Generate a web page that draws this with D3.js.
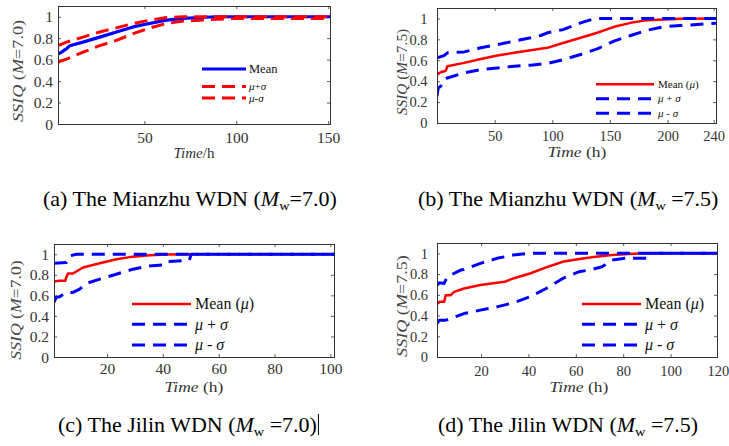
<!DOCTYPE html>
<html><head><meta charset="utf-8">
<script src="https://cdn.jsdelivr.net/npm/d3@7"></script>
<style>
body{margin:0;background:#fff}
svg{display:block}
text{font-family:"Liberation Serif","Times New Roman",serif}
</style>
</head><body>
<svg id="chart" width="729" height="446"></svg>
<script>
// ---------- data ----------
const yTicks = [0, 0.2, 0.4, 0.6, 0.8, 1];
const yTickLabels = ["0", "0.2", "0.4", "0.6", "0.8", "1"];
const xTicksA = [50, 100, 150];
const xTicksB = [50, 100, 150, 200, 240];
const xTicksC = [20, 40, 60, 80, 100];
const xTicksD = [20, 40, 60, 80, 100, 120];

// (a) Mianzhu, Mw 7.0  [time h, SSIQ]
const meanA = [[3,0.653],[5,0.67],[6.5,0.69],[7.6,0.70],[9.4,0.73],[16.6,0.763],[25.7,0.81],[34.8,0.858],[43.9,0.905],[50,0.927],[62.1,0.968],[71.2,0.984],[80.3,0.993],[89.4,1.0],[151,1.0]];
const upperA = [[3,0.731],[7.6,0.763],[16.6,0.81],[25.7,0.858],[34.8,0.896],[43.9,0.937],[53,0.968],[62.1,0.993],[71.2,1.0],[151,1.0]];
const lowerA = [[3,0.574],[5,0.59],[7.6,0.605],[16.6,0.669],[25.7,0.731],[34.8,0.779],[43.9,0.842],[53,0.896],[62.1,0.937],[71.2,0.959],[80.3,0.968],[98.5,0.984],[151,0.984]];

// (b) Mianzhu, Mw 7.5
const meanB = [[0,0.463],[3.2,0.486],[6.1,0.495],[7.5,0.50],[8.5,0.527],[9,0.543],[23.5,0.575],[38,0.613],[52.3,0.645],[66.8,0.671],[81.3,0.696],[95.7,0.719],[110,0.767],[124.6,0.815],[139,0.863],[153.5,0.92],[168,0.958],[182.4,0.984],[197,0.99],[211,0.997],[242,1.0]];
const upperB = [[0,0.623],[6.1,0.645],[9,0.671],[23.5,0.68],[38,0.719],[52.3,0.75],[66.8,0.783],[81.3,0.815],[90,0.837],[95.7,0.863],[110,0.895],[124.6,0.958],[134,0.99],[139,1.0],[242,1.0]];
const lowerB = [[0,0.256],[1,0.335],[3.2,0.351],[6.1,0.415],[9,0.431],[23.5,0.479],[38,0.511],[52.3,0.527],[66.8,0.543],[81.3,0.553],[95.7,0.569],[110,0.607],[124.6,0.655],[139,0.709],[153.5,0.783],[168,0.837],[182.4,0.888],[197,0.92],[211,0.933],[225.8,0.942],[242,0.955]];

// (c) Jilin, Mw 7.0
const meanC = [[1,0.735],[3,0.742],[5,0.742],[5.4,0.774],[6,0.813],[7.8,0.813],[9,0.832],[11.4,0.871],[17.4,0.913],[23.3,0.952],[29.3,0.977],[35.2,0.99],[41.1,0.997],[50,1.0],[101.3,1.0]];
const upperC = [[1,0.913],[5.4,0.92],[6.6,0.984],[9,1.0],[101.3,1.0]];
const lowerC = [[1,0.532],[1.8,0.581],[3,0.587],[5.4,0.629],[7.8,0.629],[10.2,0.661],[12.6,0.716],[17.4,0.758],[23.3,0.806],[29.3,0.855],[35.2,0.887],[40,0.897],[41.1,0.929],[49.5,0.942],[50.1,1.0],[101.3,1.0]];

// (d) Jilin, Mw 7.5
const meanD = [[1.4,0.51],[2.4,0.532],[4.4,0.532],[5.1,0.597],[7.2,0.597],[8.6,0.629],[12.8,0.661],[19.7,0.694],[26.7,0.716],[30,0.726],[33.6,0.758],[40.6,0.806],[47.5,0.865],[54.5,0.919],[61.4,0.945],[68.4,0.968],[75.3,0.984],[82.3,0.994],[89.2,1.0],[119.6,1.0]];
const upperD = [[1.4,0.694],[2.4,0.716],[4.4,0.71],[5.8,0.774],[11.4,0.839],[12.8,0.845],[19.7,0.903],[26.7,0.952],[33.6,0.984],[40.6,1.0],[119.6,1.0]];
const lowerD = [[1.4,0.323],[2.4,0.355],[5.1,0.355],[12.8,0.419],[19.7,0.452],[26.7,0.484],[33.6,0.523],[40.6,0.581],[47.5,0.661],[54.5,0.758],[61.4,0.823],[65.6,0.839],[71.1,0.871],[75.3,0.935],[80.8,0.952],[90.6,0.952],[91.2,1.0],[119.6,1.0]];

const legendA = ["Mean", "μ+σ", "μ-σ"];
const legendB = ["Mean (μ)", "μ + σ", "μ - σ"];
const captionNames = ["(a) The Mianzhu WDN (", "(b) The Mianzhu WDN (", "(c) The Jilin WDN (", "(d) The Jilin WDN ("];
const captionTails = ["=7.0)", " =7.5)", " =7.0)", " =7.5)"];
const magnitudes = ["7.0", "7.5", "7.0", "7.5"];

// ---------- layout ----------
const BLUE = "#0000ff", RED = "#ff0000", AX = "#333333";
const panels = [
  {l:58, r:330, t:6, b:124, xd:[3,151], xt:xTicksA, tfs:15.5, padX:8.5, padY:5,
   series:[{d:meanA,c:BLUE,w:3.2,dash:null},{d:upperA,c:RED,w:3,dash:"13,7"},{d:lowerA,c:RED,w:3,dash:"13,7"}],
   leg:{x1:202,x2:246,tx:249,ys:[69,86.5,98],fs:[12.5,11,11],labels:legendA},
   xl:{x:194,y:158,fs:15,sx:1,parts:[["Time","italic"],["/h","normal"]]},
   yl:{x:18,y:71,fs:14,len:1.3,mag:magnitudes[0]}},
  {l:437, r:716, t:8, b:123, xd:[0,242], xt:xTicksB, tfs:14.5, padX:8, padY:9.5,
   series:[{d:meanB,c:RED,w:2.5,dash:null},{d:upperB,c:BLUE,w:3,dash:"13,8"},{d:lowerB,c:BLUE,w:3,dash:"13,8"}],
   leg:{x1:596,x2:654,tx:658,ys:[84.3,98.7,113.3],fs:[11,11,11],labels:legendB},
   xl:{x:577,y:157,fs:15.5,sx:1.13,parts:[["Time","italic"],[" (h)","normal"]]},
   yl:{x:402,y:72,fs:14,len:1.1,mag:magnitudes[1]}},
  {l:54, r:334, t:244, b:357, xd:[1,101.3], xt:xTicksC, tfs:15.5, padX:6.5, padY:5,
   series:[{d:meanC,c:RED,w:2.5,dash:null},{d:upperC,c:BLUE,w:3,dash:"13,8"},{d:lowerC,c:BLUE,w:3,dash:"13,8"}],
   leg:{x1:132,x2:191,tx:195,ys:[304,324.3,345],fs:[16,16,16],labels:legendB},
   xl:{x:194,y:392,fs:15.5,sx:1.13,parts:[["Time","italic"],[" (h)","normal"]]},
   yl:{x:16,y:310,fs:14.5,len:1.22,mag:magnitudes[2]}},
  {l:437, r:717, t:243, b:357, xd:[1.4,119.6], xt:xTicksD, tfs:14.5, padX:8.5, padY:9,
   series:[{d:meanD,c:RED,w:2.5,dash:null},{d:upperD,c:BLUE,w:3,dash:"13,8"},{d:lowerD,c:BLUE,w:3,dash:"13,8"}],
   leg:{x1:582,x2:641,tx:645,ys:[304,324.3,345],fs:[16,16,16],labels:legendB},
   xl:{x:579,y:392,fs:15.5,sx:1.13,parts:[["Time","italic"],[" (h)","normal"]]},
   yl:{x:402,y:306,fs:14.5,len:1.25,mag:magnitudes[3]}}
];
const captionPos = [[43,206],[418,206],[58,432],[438,432]];
const captionStretch = [1.1, 1.1, 1.1, 1.1];

const svg = d3.select("#chart");
const defs = svg.append("defs");

function addParts(textSel, parts){
  parts.forEach(([s, st]) => textSel.append("tspan").attr("font-style", st).text(s));
}
function legendText(sel, label){
  const chunks = label.split(/([μσ])/).filter(s => s.length);
  chunks.forEach(c => sel.append("tspan").attr("font-style", /[μσ]/.test(c) ? "italic" : "normal").text(c));
}

panels.forEach((p, i) => {
  const g = svg.append("g");
  const x = d3.scaleLinear().domain(p.xd).range([p.l, p.r]);
  const y = d3.scaleLinear().domain([0, 1.1]).range([p.b, p.t]);
  const inX = v => v >= p.xd[0] && v <= p.xd[1];

  defs.append("clipPath").attr("id", "clip" + i)
    .append("rect").attr("x", p.l).attr("y", p.t).attr("width", p.r - p.l).attr("height", p.b - p.t);

  const styleAxis = (ax, labels) => {
    ax.select(".domain").remove();
    ax.selectAll(".tick line").attr("stroke", AX).attr("stroke-width", 0.8);
    ax.attr("font-family", null).attr("font-size", null);
    if (!labels) ax.selectAll(".tick text").remove();
  };
  const bottom = g.append("g").attr("transform", `translate(0,${p.b})`)
    .call(d3.axisBottom(x).tickValues(p.xt).tickSize(-3).tickPadding(p.padX).tickFormat(d3.format("d")));
  styleAxis(bottom, true);
  bottom.selectAll(".tick").filter(d => !inX(d)).select("line").remove();
  bottom.selectAll(".tick text").attr("fill", AX).attr("font-size", p.tfs)
    .attr("dy", null).attr("y", p.padX + p.tfs * 0.7);
  const top = g.append("g").attr("transform", `translate(0,${p.t})`)
    .call(d3.axisTop(x).tickValues(p.xt.filter(inX)).tickSize(-3));
  styleAxis(top, false);
  const left = g.append("g").attr("transform", `translate(${p.l},0)`)
    .call(d3.axisLeft(y).tickValues(yTicks).tickSize(-3).tickPadding(p.padY).tickFormat((d, k) => yTickLabels[k]));
  styleAxis(left, true);
  left.selectAll(".tick text").attr("fill", AX).attr("font-size", p.tfs)
    .attr("dy", null).attr("y", p.tfs * 0.33);
  const right = g.append("g").attr("transform", `translate(${p.r},0)`)
    .call(d3.axisRight(y).tickValues(yTicks).tickSize(-3));
  styleAxis(right, false);

  // data lines
  const line = d3.line().x(d => x(d[0])).y(d => y(d[1]));
  p.series.forEach(s => {
    g.append("path").attr("d", line(s.d)).attr("fill", "none")
      .attr("stroke", s.c).attr("stroke-width", s.w)
      .attr("stroke-dasharray", s.dash).attr("stroke-linejoin", "round")
      .attr("clip-path", `url(#clip${i})`);
  });

  // box
  g.append("rect").attr("x", p.l + 0.5).attr("y", p.t + 0.5)
    .attr("width", p.r - p.l).attr("height", p.b - p.t)
    .attr("fill", "none").attr("stroke", AX).attr("stroke-width", 1);

  // legend
  p.series.forEach((s, k) => {
    const yy = p.leg.ys[k];
    g.append("line").attr("x1", p.leg.x1).attr("x2", p.leg.x2).attr("y1", yy).attr("y2", yy)
      .attr("stroke", s.c).attr("stroke-width", s.w).attr("stroke-dasharray", s.dash);
    const t = g.append("text").attr("x", p.leg.tx).attr("y", yy + p.leg.fs[k] * 0.33)
      .attr("font-size", p.leg.fs[k]).attr("fill", "#111");
    legendText(t, p.leg.labels[k]);
  });

  // axis labels
  const xl = g.append("text").attr("text-anchor", "middle").attr("font-size", p.xl.fs).attr("fill", AX)
    .attr("transform", `translate(${p.xl.x},${p.xl.y}) scale(${p.xl.sx},1)`);
  addParts(xl, p.xl.parts);
  const yl = g.append("text").attr("text-anchor", "middle").attr("font-size", p.yl.fs).attr("fill", "#444")
    .attr("transform", `translate(${p.yl.x},${p.yl.y}) rotate(-90) scale(${p.yl.len},1)`)
    .attr("dy", "0.35em");
  addParts(yl, [["SSIQ", "italic"], [" (", "normal"], ["M", "italic"], ["=" + p.yl.mag + ")", "normal"]]);
});

// captions
const capNodes = captionNames.map((c, k) => {
  const t = svg.append("text")
    .attr("transform", `translate(${captionPos[k][0]},${captionPos[k][1]}) scale(${captionStretch[k]},1)`)
    .attr("font-size", 20).attr("fill", "#000");
  t.append("tspan").text(c);
  t.append("tspan").attr("font-style", "italic").text("M");
  t.append("tspan").attr("font-size", 13).attr("dy", 4).text("w");
  t.append("tspan").attr("dy", -4).text(captionTails[k]);
  return t;
});
// text cursor mark right after caption (c)
const cb = capNodes[2].node().getBBox();
const cursorX = captionPos[2][0] + (cb.x + cb.width) * captionStretch[2] + 1.5;
svg.append("line").attr("x1", cursorX).attr("x2", cursorX).attr("y1", 414).attr("y2", 435)
  .attr("stroke", "#000").attr("stroke-width", 1);
</script>
</body></html>
